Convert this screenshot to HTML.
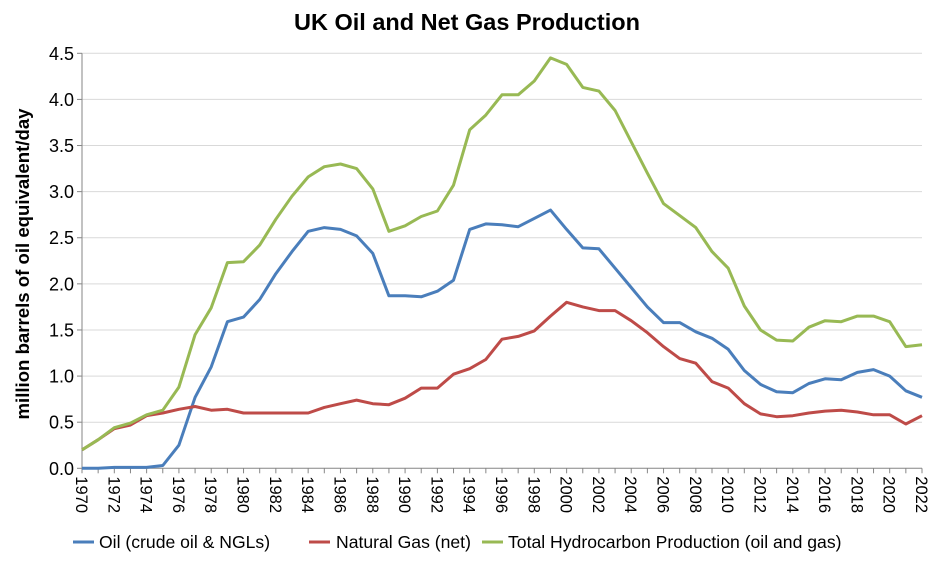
<!DOCTYPE html>
<html><head><meta charset="utf-8"><style>
body{margin:0;background:#fff;}
svg{display:block;font-family:"Liberation Sans",Arial,sans-serif;}
</style></head><body>
<svg id="c" width="935" height="561" xmlns="http://www.w3.org/2000/svg">
<text x="467" y="30" text-anchor="middle" font-size="23.5" font-weight="bold" fill="#000">UK Oil and Net Gas Production</text>
<text transform="translate(29,264) rotate(-90)" text-anchor="middle" font-size="18.6" font-weight="bold" fill="#000">million barrels of oil equivalent/day</text>
<g id="grid"></g>
<g id="series"></g>
<g font-size="17.6" fill="#000">
<line x1="73" y1="542" x2="94" y2="542" stroke="#4a7ebb" stroke-width="3"/>
<text x="99" y="548">Oil (crude oil &amp; NGLs)</text>
<line x1="309" y1="542" x2="330" y2="542" stroke="#be4b48" stroke-width="3"/>
<text x="336" y="548">Natural Gas (net)</text>
<line x1="482" y1="542" x2="503" y2="542" stroke="#98b954" stroke-width="3"/>
<text x="508" y="548">Total Hydrocarbon Production (oil and gas)</text>
</g>
</svg>
<script>
var oil=[0,0,0.01,0.01,0.01,0.03,0.25,0.77,1.1,1.59,1.64,1.83,2.11,2.35,2.57,2.61,2.59,2.52,2.33,1.87,1.87,1.86,1.92,2.04,2.59,2.65,2.64,2.62,2.71,2.80,2.59,2.39,2.38,2.17,1.96,1.75,1.58,1.58,1.48,1.41,1.29,1.06,0.91,0.83,0.82,0.92,0.97,0.96,1.04,1.07,1.00,0.84,0.77];
var gas=[0.2,0.31,0.43,0.47,0.57,0.60,0.64,0.67,0.63,0.64,0.60,0.60,0.60,0.60,0.60,0.66,0.70,0.74,0.70,0.69,0.76,0.87,0.87,1.02,1.08,1.18,1.40,1.43,1.49,1.65,1.80,1.75,1.71,1.71,1.60,1.47,1.32,1.19,1.14,0.94,0.87,0.70,0.59,0.56,0.57,0.60,0.62,0.63,0.61,0.58,0.58,0.48,0.57];
var tot=[0.2,0.31,0.44,0.49,0.58,0.63,0.88,1.45,1.74,2.23,2.24,2.42,2.70,2.95,3.16,3.27,3.30,3.25,3.03,2.57,2.63,2.73,2.79,3.07,3.67,3.83,4.05,4.05,4.20,4.45,4.38,4.13,4.09,3.88,3.54,3.20,2.87,2.74,2.61,2.35,2.17,1.76,1.50,1.39,1.38,1.53,1.60,1.59,1.65,1.65,1.59,1.32,1.34];
var x0=82,x1=922,y0=468.3,y45=53.3;
function X(i){return x0+(x1-x0)*i/52;}
function Y(v){return y0-(y0-y45)*v/4.5;}
var ns="http://www.w3.org/2000/svg";
function el(t,a,p,txt){var e=document.createElementNS(ns,t);for(var k in a)e.setAttribute(k,a[k]);if(txt!=null)e.textContent=txt;p.appendChild(e);return e;}
var g=document.getElementById('grid');
for(var j=0;j<=9;j++){var v=j*0.5,y=Y(v);
 if(j>0)el('line',{x1:x0,x2:x1,y1:y,y2:y,stroke:'#d9d9d9','stroke-width':1},g);
 el('line',{x1:x0-5,x2:x0,y1:y,y2:y,stroke:'#868686','stroke-width':1},g);
 el('text',{x:x0-8,y:y+6.5,'text-anchor':'end','font-size':18,fill:'#000'},g,v.toFixed(1));}
el('line',{x1:x0,x2:x0,y1:y45,y2:y0,stroke:'#868686','stroke-width':1},g);
el('line',{x1:x0,x2:x1,y1:y0,y2:y0,stroke:'#868686','stroke-width':1},g);
for(var i=0;i<=52;i++){var x=X(i);el('line',{x1:x,x2:x,y1:y0,y2:y0+5,stroke:'#868686','stroke-width':1},g);
 if(i%2==0){el('text',{transform:'translate('+(x-6)+','+(y0+8)+') rotate(90)','font-size':16.5,fill:'#000'},g,String(1970+i));}}
var s=document.getElementById('series');
[[oil,'#4a7ebb'],[gas,'#be4b48'],[tot,'#98b954']].forEach(function(d){
 var p=d[0].map(function(v,i){return (i?'L':'M')+X(i).toFixed(1)+','+Y(v).toFixed(1);}).join('');
 el('path',{d:p,fill:'none',stroke:d[1],'stroke-width':3,'stroke-linejoin':'round'},s);});
</script>
</body></html>
